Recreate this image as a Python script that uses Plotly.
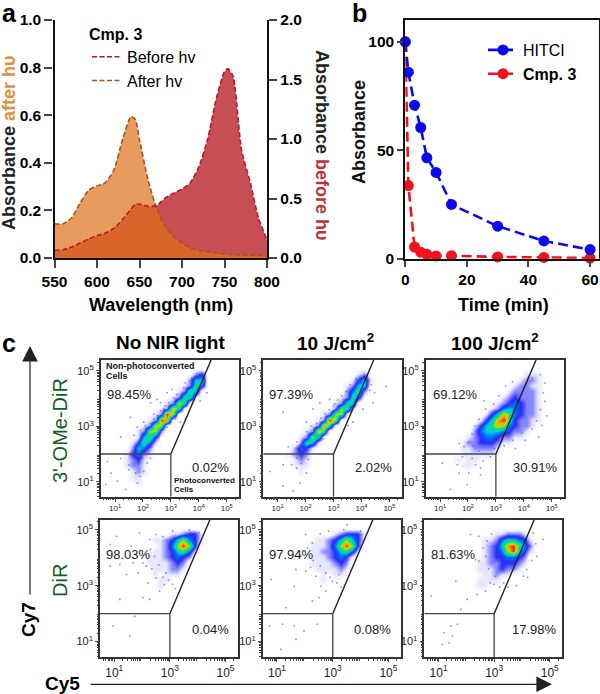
import numpy as np
import plotly.graph_objects as go

W, H = 600, 694
FONT = "Liberation Sans"

# ---------- panel a ----------
wl_after = [550,560,570,580,590,600,610,620,630,640,645,650,660,670,680,690,700,710,720,740,760,800]
abs_after = [.144,.144,.168,.23,.284,.303,.317,.37,.497,.594,.583,.497,.329,.21,.133,.091,.063,.042,.032,.021,.014,.01]
wl_before = [550,560,570,580,590,600,610,620,630,640,645,650,660,670,680,690,700,710,720,730,740,750,754,760,770,780,790,800]
abs_before = [.064,.07,.092,.126,.16,.187,.21,.252,.322,.411,.448,.453,.434,.439,.503,.545,.579,.635,.769,.993,1.329,1.566,1.589,1.53,.909,.643,.336,.154]

# ---------- panel b ----------
time_min = [0,1,3,5,7,10,15,30,45,60]
hitci = [100,86,70.8,60.5,46.5,39.8,25,15,8.2,4.2]
cmp3 = [100,33.7,5.4,3,2,1.3,1.4,.8,.6,.3]

# ---------- panel c ----------
col_titles = ["No NIR light", "10 J/cm<sup>2</sup>", "100 J/cm<sup>2</sup>"]
upper_pct = ["98.45%","97.39%","69.12%","98.03%","97.94%","81.63%"]
lower_pct = ["0.02%","2.02%","30.91%","0.04%","0.08%","17.98%"]
gate_top_x = [4.44,4.44,4.44,4.44,4.44,4.44]

Z = "0"*24
d1 = [Z,Z,"000000000000000023000000","000000000000000255000000","000000000000001264000000",
"000000000000012650000000","000000000000126610000000","000000000001276000000000","000000000012860000000000",
"000000000129700000000000","000000001298000000000000","000000012870000000000000","000000127720000000000000",
"000000156300000000000000","000001364100000000000000","000002542000000000000000","000013421000000000000000",
"000012310000000000000000","000012210000000000000000","000001210000000000000000","000001100000000000000000",
"000000100000000000000000",Z,Z]
d2 = [Z,Z,"000000000000000012000000","000000000000000135100000","000000000000001255000000",
"000000000000002462000000","000000000000012640000000","000000000000126500000000","000000000000276100000000",
"000000000012770000000000","000000000129700000000000","000000001296000000000000","000000012860000000000000",
"000000127500000000000000","000000265100000000000000","000002431000000000000000","000012320000000000000000",
"000001210000000000000000","000001110000000000000000","000000100000000000000000",Z,Z,Z,Z]
d3 = [Z,Z,"000000000000000001110000","000000000000000012210000","000000000000000122110000",
"000000000000001222210000","000000000000012322210000","000000000000123432210000","000000000001245432210000",
"000000000013586432210000","000000000135896322110000","000000001356874322100000","000000002455543221000000",
"000000012344322110000000","000000122333211000000000","000000112222100000000000","000000111111000000000000",
"000001011000000000000000","000000110000000000000000",Z,Z,Z,Z,Z]
d4 = [Z,Z,"000000000000112331000000","000000000112357431000000","000000000012479730000000",
"000000000112356410000000","000000001112343200000000","000000001111232000000000","000000000111221000000000",
"000000000101110000000000","000000000011000000000000","000000000010000000000000",Z,Z,Z,Z,Z,Z,Z,Z,Z,Z,Z,Z]
d5 = [Z,Z,"000000000000123331000000","000000000112357531000000","000000001112479730000000",
"000000001122356410000000","000000001112343100000000","000000001111232000000000","000000000111121000000000",
"000000000010110000000000","000000000010000000000000",Z,Z,Z,Z,Z,Z,Z,Z,Z,Z,Z,Z,Z]
d6 = [Z,Z,"000000000000112221000000","000000000011245543100000","000000000012358964200000",
"000000000012347953100000","000000000012334432000000","000000000112233321000000","000000000111232210000000",
"000000000011211000000000","000000000111100000000000","000000000110000000000000",Z,Z,Z,Z,Z,Z,Z,Z,Z,Z,Z,Z]
density = [d1,d2,d3,d4,d5,d6]

s1 = [(1.56,3.32),(1.2,2.61),(2.27,3.85),(2.51,3.97),(2.03,3.15),(1.68,2.67),(2.75,3.62),(1.8,2.97),(4.29,4.21),(4.05,3.91),(3.52,3.26),(3.34,3.15),(.73,1.73),(.85,1.31),(1.2,1.84),(1.08,1.02),(.67,.9),(1.49,1.43),(2.03,1.37),(1.8,.96),(2.27,1.84),(1.38,.72),(2.86,4.21),(3.04,4.33),(2.63,3.85),(2.39,3.44),
      (1.91,2.85),(2.09,3.03),(2.27,3.09),(2.39,3.26),(2.51,3.38),(2.63,3.56),(2.8,3.74),(2.92,3.85),(3.1,4.03),(3.22,4.15),(3.46,4.39),(3.52,4.56),(3.75,4.74),(2.27,2.26),(2.57,2.61),(2.86,2.97),(3.16,3.26),(3.64,3.85),(3.87,4.15),(1.68,2.26),(1.56,1.96),(1.97,1.84),(2.15,1.67),(1.5,1.61),(1.74,1.31),(1.91,1.19)]
s2 = [(1.2,3.5),(2.27,3.62),(2.51,3.85),(2.86,3.97),(2.03,3.15),(1.68,2.44),(1.38,2.26),(3.04,3.8),(4.41,3.85),(4.47,4.21),(3.7,3.15),(3.46,3.5),(4.05,3.62),(.73,1.37),(1.2,1.61),(1.5,1.61),(1.68,1.49),(2.03,1.31),(1.2,.84),(1.8,.96),(1.56,.66),(2.63,2.55),(4.88,4.44),(3.52,3.03),
      (2.05,2.8),(2.2,3.0),(2.4,3.1),(2.55,3.3),(2.7,3.45),(2.85,3.6),(3.0,3.72),(3.15,3.95),(3.3,4.1),(3.45,4.25),(3.6,4.5),(3.8,4.7),(4.2,4.85),(4.35,4.5),(2.35,2.35),(2.65,2.7),(2.95,3.05),(3.25,3.35),(3.6,3.7),(3.95,4.2),(4.3,4.3),(1.7,1.85),(1.85,1.65),(2.1,1.8)]
s3 = [(2.63,3.62),(2.57,3.91),(2.15,2.73),(1.68,2.38),(1.86,2.26),(4.64,3.03),(4.82,3.38),(4.53,2.61),(4.05,2.49),(3.7,2.2),(4.59,4.86),(4.76,4.56),(4.29,4.74),(1.08,1.67),(1.62,1.61),(1.68,1.31),(2.03,1.31),(1.97,.9),(2.45,1.25),(2.15,1.84),(2.27,1.61),(1.38,.72),(2.92,3.8),(2.03,2.44),
      (4.7,4.2),(4.75,3.9),(4.6,3.6),(4.45,3.2),(4.3,2.9),(3.95,2.75),(3.6,2.5),(3.3,2.3),(2.95,2.2),(2.4,2.1),(2.2,2.3),(3.1,4.1),(3.35,4.45),(3.6,4.6),(2.4,3.25),(2.25,3.0),(1.8,1.9),(2.55,1.75),(2.8,1.9),(2.45,1.5)]
s4 = [(1.08,4.77),(.85,4.47),(1.91,4.88),(1.62,4.41),(1.2,3.76),(.85,3.7),(1.68,3.82),(2.03,3.82),(1.44,3.4),(1.86,3.46),(2.21,3.1),(2.51,3.28),(2.8,3.04),(2.63,2.8),(2.27,2.51),(2.03,2.57),(1.2,2.51),(1.74,1.91),(.96,1.56),(1.56,1.2),(2.51,4.83),(2.27,4.65),(2.45,4.05),(2.86,3.46),
      (2.3,4.3),(2.15,4.1),(1.95,4.25),(2.6,3.75),(2.35,3.6),(2.15,3.7),(2.75,3.3),(2.95,3.2),(3.1,3.05),(3.2,2.9),(2.75,4.75),(3.1,4.95),(3.7,5.0),(4.05,4.9)]
s5 = [(2.03,4.83),(2.27,4.53),(1.62,2.98),(2.03,3.52),(1.68,3.58),(2.39,3.34),(2.57,2.98),(2.98,3.16),(2.75,2.8),(2.51,2.57),(2.27,2.45),(1.32,2.21),(.79,3.22),(1.2,1.62),(1.62,1.56),(1.97,1.38),(1.68,1.08),(2.45,1.62),(.73,1.56),(1.14,.73),(3.52,5.18),(3.22,3.4),(1.97,4.23),
      (2.1,4.35),(1.85,4.1),(2.3,3.9),(2.55,3.7),(2.2,3.65),(2.75,3.45),(2.9,3.3),(3.15,3.1),(3.3,2.95),(2.55,4.85),(2.85,4.95),(3.4,5.0),(4.0,4.95)]
s6 = [(2.15,4.83),(2.45,4.77),(2.69,4.05),(2.45,3.88),(2.33,3.93),(2.86,3.1),(2.69,2.8),(2.39,2.69),(2.03,2.51),(1.62,3.16),(.73,2.63),(1.2,1.32),(1.44,1.56),(1.68,1.62),(1.38,.96),(1.14,.9),(1.5,1.2),(1.8,2.15),(4.41,4.88),(4.53,4.05),(4.76,4.65),(4.05,3.34),(4.17,3.58),(3.04,3.34),
      (2.75,4.6),(2.9,4.85),(2.6,4.35),(2.8,3.6),(3.0,3.05),(3.2,2.95),(3.35,3.1),(3.5,2.95),(4.3,4.4),(4.5,4.5),(4.35,3.9),(4.2,3.3),(3.8,3.0)]
sparse = [s1,s2,s3,s4,s5,s6]


def fx(p): return p / W
def fy(p): return 1 - p / H


fig = go.Figure()
RED_FILL = "rgb(200,78,85)"
ORANGE_FILL = "rgba(222,112,26,0.7)"
RED_LINE = "#C01428"
BROWN_LINE = "#A5551C"

fig.add_trace(go.Scatter(x=wl_before, y=abs_before, yaxis="y", xaxis="x", mode="none", fill="tozeroy",
                         fillcolor=RED_FILL, line=dict(shape="spline", smoothing=.6), showlegend=False, hoverinfo="skip"))
fig.add_trace(go.Scatter(x=wl_after, y=abs_after, yaxis="y2", xaxis="x", mode="none", fill="tozeroy",
                         fillcolor=ORANGE_FILL, line=dict(shape="spline", smoothing=.6), showlegend=False, hoverinfo="skip"))
fig.add_trace(go.Scatter(x=wl_after, y=abs_after, yaxis="y2", xaxis="x", mode="lines", name="After hv", showlegend=False,
                         line=dict(color=BROWN_LINE, width=1.6, dash="5px,2.5px", shape="spline", smoothing=.6)))
fig.add_trace(go.Scatter(x=wl_before, y=abs_before, yaxis="y3", xaxis="x", mode="lines", name="Before hv", legend="legend",
                         line=dict(color=RED_LINE, width=1.6, dash="5px,2.5px", shape="spline", smoothing=.6)))
fig.add_trace(go.Scatter(x=[None], y=[None], yaxis="y3", xaxis="x", mode="lines", name="After hv", legend="legend",
                         line=dict(color=BROWN_LINE, width=1.6, dash="5px,2.5px")))

# panel b
fig.add_trace(go.Scatter(x=time_min, y=cmp3, xaxis="x2", yaxis="y4", mode="lines+markers", name="<b>Cmp. 3</b>",
                         legend="legend2", legendgroup="c", cliponaxis=False,
                         line=dict(color="#F5101A", width=2.6, dash="10px,5px"), marker=dict(size=11, color="#F5101A")))
fig.add_trace(go.Scatter(x=time_min, y=hitci, xaxis="x2", yaxis="y4", mode="lines+markers", name="HITCI",
                         legend="legend2", legendgroup="h", cliponaxis=False,
                         line=dict(color="#0A0AF0", width=2.6, dash="10px,5px"), marker=dict(size=11, color="#0A0AF0")))

layout = dict(
    width=W, height=H, autosize=False, margin=dict(l=0, r=0, t=0, b=0, autoexpand=False),
    paper_bgcolor="white", plot_bgcolor="white", font=dict(family=FONT, color="black"),
    legend=dict(x=fx(87), y=fy(19), xanchor="left", yanchor="top", bgcolor="rgba(0,0,0,0)",
                font=dict(size=16), title=dict(text="<b>Cmp. 3</b>", font=dict(size=16)),
                itemwidth=30, traceorder="normal"),
    legend2=dict(x=fx(483), y=fy(33), xanchor="left", yanchor="top", bgcolor="rgba(0,0,0,0)",
                 font=dict(size=16), tracegroupgap=11, traceorder="reversed", itemwidth=30),
)
tick_b = dict(family=FONT, size=15.5, color="black", weight="bold")
layout["xaxis"] = dict(domain=[fx(54.5), fx(267)], range=[550, 800], anchor="y", tickvals=[550,600,650,700,750,800],
                       ticks="outside", ticklen=8, tickwidth=2.4, showline=True, linewidth=2.4, linecolor="#111",
                       showgrid=False, zeroline=False, tickfont=tick_b)
layout["yaxis"] = dict(domain=[fy(258), fy(20)], range=[0, 2], side="right", anchor="x", tickvals=[0,.5,1,1.5,2],
                       tickformat=".1f", ticks="outside", ticklen=8, tickwidth=2.4, showline=True, linewidth=2.4,
                       linecolor="#111", showgrid=False, zeroline=False, tickfont=tick_b)
layout["yaxis2"] = dict(domain=[fy(258), fy(20)], range=[0, 1], side="left", overlaying="y", anchor="x",
                        tickvals=[0,.2,.4,.6,.8,1], tickformat=".1f", ticks="outside", ticklen=8, tickwidth=2.4,
                        showline=True, linewidth=2.4, linecolor="#111", showgrid=False, zeroline=False, tickfont=tick_b)
layout["yaxis3"] = dict(domain=[fy(258), fy(20)], range=[0, 2], side="right", overlaying="y", anchor="x", visible=False)
layout["xaxis2"] = dict(domain=[fx(405.3), fx(599)], range=[0, 62.9], anchor="y4", tickvals=[0,20,40,60],
                        ticks="outside", ticklen=6, tickwidth=2, showline=True, linewidth=2, linecolor="#111", mirror=True,
                        showgrid=False, zeroline=False, tickfont=tick_b)
layout["yaxis4"] = dict(domain=[fy(258.7), fy(19.5)], range=[0, 110.3], anchor="x2", tickvals=[0,50,100],
                        ticks="outside", ticklen=6, tickwidth=2, showline=True, linewidth=2, linecolor="#111", mirror=True,
                        showgrid=False, zeroline=False, tickfont=tick_b)

# panel c
panels = [(100.7,239,360,496.7),(263.3,401.7,360,496.7),(425.7,564,360,496.7),
          (100,237.7,519.7,657.3),(262.7,400.7,519.7,657.3),(424.3,562,519.7,657.3)]
x_rng = (.487, 5.44)
y_rngs = [(.46, 5.39)]*3 + [(.44, 5.36)]*3
scale = [[0,"#ffffff"],[1/9,"#E6E7FF"],[2/9,"#8585FF"],[3/9,"#2A2AF5"],[4/9,"#0070F5"],[5/9,"#00D0D8"],
         [6/9,"#10D878"],[7/9,"#90E818"],[8/9,"#FFB000"],[1,"#F01010"]]
minor_vals = [float(np.log10(m) + d) for d in range(0, 6) for m in range(2, 10)]
shapes, annots = [], []


def sup(n): return f"10<sup>{n}</sup>"


for i, (L, R, T, B) in enumerate(panels):
    xn, yn = i + 3, i + 5
    xa, ya = f"x{xn}", f"y{yn}"
    yr = y_rngs[i]
    rows = density[i]
    z = [[int(c) for c in row] for row in reversed(rows)]
    fig.add_trace(go.Heatmap(z=z, x0=x_rng[0]+.5*(x_rng[1]-x_rng[0])/24, dx=(x_rng[1]-x_rng[0])/24,
                             y0=yr[0]+.5*(yr[1]-yr[0])/24, dy=(yr[1]-yr[0])/24, xaxis=xa, yaxis=ya,
                             zmin=0, zmax=9, colorscale=scale, showscale=False, zsmooth="best", hoverinfo="skip"))
    fig.add_trace(go.Scatter(x=[p[0] for p in sparse[i]], y=[p[1] for p in sparse[i]], xaxis=xa, yaxis=ya,
                             mode="markers", marker=dict(size=1.6, symbol="square", color="rgba(70,70,255,.6)"),
                             showlegend=False, hoverinfo="skip"))
    top_row = i < 3
    x_vals = [1,2,3,4,5] if top_row else [1,3,5]
    layout[f"xaxis{xn}"] = dict(domain=[fx(L), fx(R)], range=list(x_rng), anchor=ya, tickvals=x_vals,
                                ticktext=[sup(v) for v in x_vals], ticks="outside", ticklen=3, tickwidth=1,
                                showline=True, linewidth=1.6, linecolor="#333", mirror=True, showgrid=False,
                                zeroline=False, tickfont=dict(size=8 if top_row else 12, color="#222"),
                                minor=dict(tickvals=minor_vals, ticks="outside", ticklen=1.5, tickwidth=.7, showgrid=False))
    layout[f"yaxis{yn}"] = dict(domain=[fy(B), fy(T)], range=list(yr), anchor=xa, tickvals=[1,3,5],
                                ticktext=[sup(v) for v in [1,3,5]], ticks="outside", ticklen=3, tickwidth=1,
                                showline=True, linewidth=1.6, linecolor="#333", mirror=True, showgrid=False,
                                zeroline=False, tickfont=dict(size=11, color="#222"),
                                minor=dict(tickvals=minor_vals, ticks="outside", ticklen=1.5, tickwidth=.7, showgrid=False))
    gate = dict(color="#222", width=1.4)
    shapes += [dict(type="line", xref=xa, yref=ya, x0=x_rng[0], x1=3, y0=2, y1=2, line=dict(color="#444", width=1.3)),
               dict(type="line", xref=xa, yref=ya, x0=3, x1=3, y0=yr[0], y1=2, line=dict(color="#444", width=1.3)),
               dict(type="line", xref=xa, yref=ya, x0=3, x1=gate_top_x[i], y0=2, y1=yr[1], line=gate)]
    ty = 394 if top_row else 554
    by = 468 if top_row else 629
    ux, lx = (L + 28.5 + (1 if i % 3 == 2 else 0), L + 110)
    annots.append(dict(x=fx(ux), y=fy(ty), xref="paper", yref="paper", text=upper_pct[i], showarrow=False,
                       xanchor="center", yanchor="middle", font=dict(size=13, color="#222")))
    annots.append(dict(x=fx(lx), y=fy(by), xref="paper", yref="paper", text=lower_pct[i], showarrow=False,
                       xanchor="center", yanchor="middle", font=dict(size=13, color="#222")))

layout["shapes"] = shapes


def txt(px, py, text, size=15, bold=False, color="black", angle=0, xanchor="center"):
    annots.append(dict(x=fx(px), y=fy(py), xref="paper", yref="paper", showarrow=False, text=f"<b>{text}</b>" if bold else text,
                       font=dict(size=size, color=color), textangle=angle, xanchor=xanchor, yanchor="middle"))


txt(9, 13, "a", 25, True); txt(359, 13, "b", 25, True); txt(9, 343, "c", 25, True)
txt(161, 305, "Wavelength (nm)", 18, True)
txt(503, 305, "Time (min)", 18, True)
txt(9, 143, "Absorbance <span style='color:#E0903C'>after hυ</span>", 18, True, "#222", -90)
txt(322, 145, "Absorbance <span style='color:#B8343C'>before hυ</span>", 18, True, "#222", 90)
txt(359, 132, "Absorbance", 18, True, "#111", -90)
txt(170, 342, col_titles[0], 19, True)
txt(335, 342, col_titles[1], 19, True)
txt(495, 342, col_titles[2], 19, True)
txt(60, 431, "3'-OMe-DiR", 20, False, "#0F5F25", -90)
txt(60, 581, "DiR", 20, False, "#0F5F25", -90)
txt(28, 620, "Cy7", 19, True, "black", -90)
txt(62, 683, "Cy5", 19, True)
txt(104, 365.5, "Non-photoconverted", 9, True, "#111", 0, "left")
txt(104, 375.5, "Cells", 9, True, "#111", 0, "left")
txt(172, 480, "Photoconverted", 8, True, "#111", 0, "left")
txt(172, 490, "Cells", 8, True, "#111", 0, "left")
for (tx, ty, ax, ay) in [(30, 346, 0, 250), (552, 684.3, -463, 0)]:
    annots.append(dict(x=fx(tx), y=fy(ty), xref="paper", yref="paper", text="", showarrow=True, ax=ax, ay=ay,
                       arrowhead=2, arrowsize=2.6, arrowwidth=1.2, arrowcolor="#222"))
layout["annotations"] = annots

fig.update_layout(**layout)
fig.write_html("out.html", config=dict(displayModeBar=False),
               post_script="document.body.style.margin='0';document.body.style.overflow='hidden';")
